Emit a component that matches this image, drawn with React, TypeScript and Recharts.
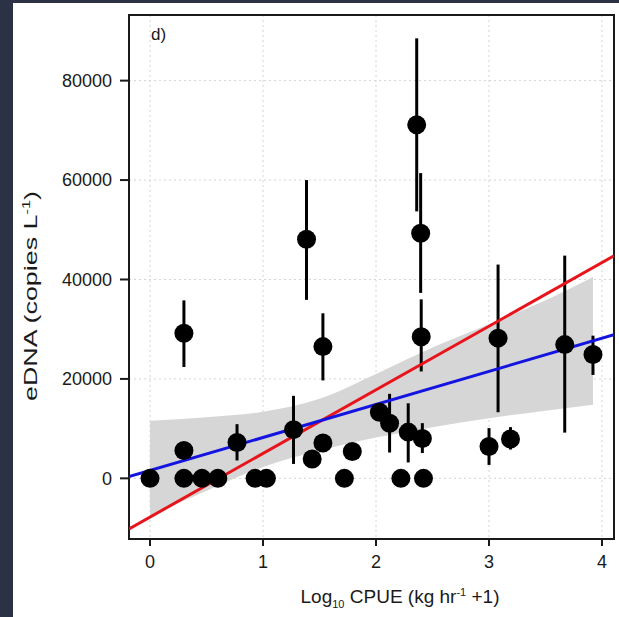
import React from "react";
import {
  ComposedChart,
  XAxis,
  YAxis,
  CartesianGrid,
  Area,
  Line,
  Scatter,
  ErrorBar,
  ReferenceArea,
} from "recharts";

// observations: log10 CPUE, eDNA mean and error bar limits (null = no visible bar)
const cpue = [0, 0.3, 0.3, 0.3, 0.46, 0.6, 0.77, 0.93, 1.03, 1.27, 1.385, 1.435, 1.53, 1.53, 1.72, 1.79, 2.03, 2.12, 2.22, 2.285, 2.36, 2.395, 2.4, 2.41, 2.42, 3.0, 3.08, 3.19, 3.67, 3.92];
const edna = [0, 29200, 5600, 0, 0, 0, 7200, 0, 0, 9800, 48100, 3900, 7100, 26500, 0, 5400, 13300, 11100, 0, 9300, 71100, 49300, 28500, 8000, 0, 6400, 28200, 7900, 26900, 24900];
const ednaLo = [null, 22400, null, null, null, null, 3600, null, null, 2900, 35900, null, null, 19700, null, null, null, 5200, null, 3200, 53700, 37300, 21500, 5100, null, 2700, 13300, 5800, 9200, 20800];
const ednaHi = [null, 35800, null, null, null, null, 10900, null, null, 16600, 60000, null, null, 33200, null, null, null, 17000, null, 15100, 88500, 61400, 36000, 11100, null, 10100, 43000, 10300, 44800, 28700];

// confidence ribbon
const ribbonX = [0, 0.5, 1, 1.5, 2, 2.5, 3, 3.5, 3.92];
const ribbonLo = [-7600, -2500, 2300, 5600, 8200, 10300, 12100, 13600, 14800];
const ribbonHi = [11600, 12300, 13400, 16000, 21000, 26300, 31000, 35800, 40500];

// fitted lines (end points)
const lineX = [-0.186, 4.106];
const blueY = [340, 28880];
const redY = [-10170, 44760];

const xDomain = [-0.186, 4.106];
const yDomain = [-12200, 93200];
const xTicks = [0, 1, 2, 3, 4];
const yTicks = [0, 20000, 40000, 60000, 80000];

const points = cpue.map((x, i) => {
  const y = edna[i];
  const lo = ednaLo[i] ?? y;
  const hi = ednaHi[i] ?? y;
  return { x, y, err: [y - lo, hi - y] };
});
const ribbon = ribbonX.map((x, i) => ({ x, band: [ribbonLo[i], ribbonHi[i]] }));
const blueLine = lineX.map((x, i) => ({ x, y: blueY[i] }));
const redLine = lineX.map((x, i) => ({ x, y: redY[i] }));

const font = "'Liberation Sans', Arial, Helvetica, sans-serif";
const ink = "#1a1a1a";

const Dot = (props: any) => <circle cx={props.cx} cy={props.cy} r={9.5} fill="#000" />;

const YTitle = () => (
  <text
    x={0}
    y={0}
    transform="translate(37, 296) rotate(-90)"
    textAnchor="middle"
    fill={ink}
    fontSize={18}
    fontFamily={font}
    textLength={210}
    lengthAdjust="spacingAndGlyphs"
  >
    eDNA (copies L<tspan dy={-7} fontSize={11}>-1</tspan>
    <tspan dy={7}>)</tspan>
  </text>
);

const XTitle = () => (
  <text
    x={400}
    y={603}
    textAnchor="middle"
    fill={ink}
    fontSize={19}
    fontFamily={font}
  >
    Log<tspan dy={5} fontSize={11}>10</tspan>
    <tspan dy={-5}> CPUE (kg hr</tspan>
    <tspan dy={-7} fontSize={11}>-1</tspan>
    <tspan dy={7}> +1)</tspan>
  </text>
);

export default function App() {
  return (
    <div style={{ position: "relative", width: 619, height: 617, background: "#2b3245" }}>
      <style>{`body{margin:0}`}</style>
      <div style={{ position: "absolute", left: 13, top: 3, width: 606, height: 614, background: "#fff" }} />
      <div style={{ position: "absolute", left: 0, top: 0 }}>
        <ComposedChart
          width={619}
          height={617}
          data={ribbon}
          margin={{ top: 15, right: 5, bottom: 0, left: 0 }}
        >
          <CartesianGrid stroke="#d4d4d4" strokeDasharray="2 3" />
          <XAxis
            type="number"
            dataKey="x"
            domain={xDomain}
            ticks={xTicks}
            allowDataOverflow
            height={78}
            axisLine={false}
            tickSize={7}
            tickMargin={9}
            tickLine={{ stroke: ink, strokeWidth: 2 }}
            tick={{ fill: ink, fontSize: 18, fontFamily: font }}
            label={<XTitle />}
          />
          <YAxis
            type="number"
            domain={yDomain}
            ticks={yTicks}
            allowDataOverflow
            width={129}
            axisLine={false}
            tickSize={9}
            tickMargin={8}
            tickLine={{ stroke: ink, strokeWidth: 2 }}
            tick={{ fill: ink, fontSize: 18, fontFamily: font }}
            label={<YTitle />}
          />
          <Area
            dataKey="band"
            type="monotone"
            fill="#d6d6d6"
            fillOpacity={1}
            stroke="none"
            isAnimationActive={false}
          />
          <Scatter data={points} dataKey="y" shape={<Dot />} isAnimationActive={false}>
            <ErrorBar dataKey="err" direction="y" width={0} stroke="#000" strokeWidth={3} isAnimationActive={false} />
          </Scatter>
          <Line data={redLine} dataKey="y" type="linear" stroke="#e8141c" strokeWidth={3} dot={false} isAnimationActive={false} />
          <Line data={blueLine} dataKey="y" type="linear" stroke="#1414e0" strokeWidth={3} dot={false} isAnimationActive={false} />
          <ReferenceArea
            x1={xDomain[0]}
            x2={xDomain[1]}
            y1={yDomain[0]}
            y2={yDomain[1]}
            fill="none"
            stroke={ink}
            strokeWidth={2}
          />
        </ComposedChart>
      </div>
      <div
        style={{
          position: "absolute",
          left: 151,
          top: 25,
          fontFamily: font,
          fontSize: 17,
          color: ink,
        }}
      >
        d)
      </div>
    </div>
  );
}
